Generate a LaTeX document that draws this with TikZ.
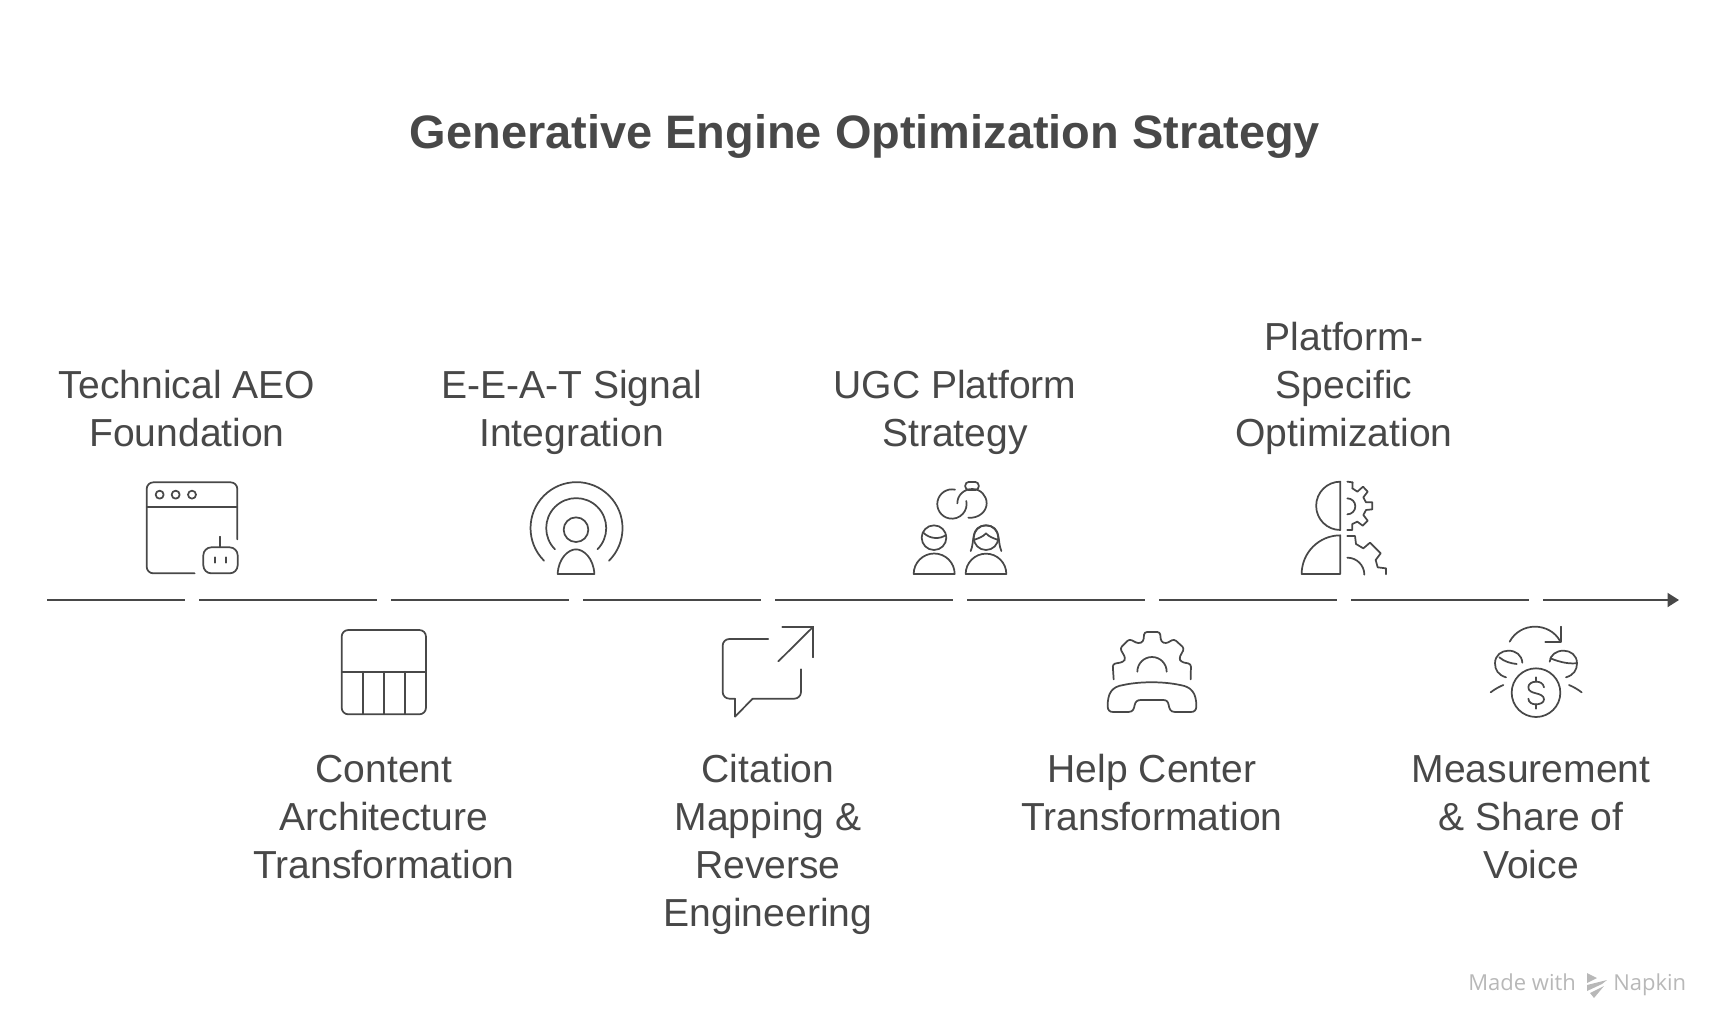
\documentclass[tikz,border=0pt]{standalone}
\usepackage{fontspec}
\setmainfont{Liberation Sans}
\newfontfamily\footfont{Open Sans}
\usepackage{xcolor}
\definecolor{inkgray}{HTML}{484848}
\definecolor{footgray}{HTML}{B8B8B8}
\usetikzlibrary{arrows.meta}
\tikzset{
  axisline/.style={draw=inkgray, line width=1.5pt},
  iconline/.style={draw=inkgray, line width=1.3pt, line cap=round, line join=round},
  steplabel/.style={text=inkgray, align=center, inner sep=0pt,
    font=\fontsize{29.3}{36}\selectfont},
  footlabel/.style={text=footgray, inner sep=0pt, anchor=base west,
    font=\footfont\fontsize{16.5}{20}\selectfont},
}
\begin{document}
\begin{tikzpicture}[x=0.75pt,y=-0.75pt]
  \useasboundingbox (0,0) rectangle (1728,1032);

  % Title
  \node[text=inkgray, inner sep=0pt] (title) at (865,136) {\fontsize{35.2}{44}\selectfont\textbf{Generative Engine Optimization Strategy}};

  % Timeline, broken below each step
  \coordinate (axisTail) at (47,600);
  \coordinate (axisTip) at (1679,600);
  \draw[axisline] (axisTail) -- (185,600);
  \foreach \gapx in {199,391,583,775,967,1159,1351}
    \draw[axisline] (\gapx,600) -- ++(178,0);
  \draw[axisline, -{Triangle[length=8.6pt,width=10.5pt]}] (1543,600) -- (axisTip);

  % Labels above the line
  \node[steplabel, anchor=south] (foundation) at (187,460.9) {Technical AEO\\Foundation\strut};
  \node[steplabel, anchor=south] (signal) at (571.5,460.9) {E-E-A-T Signal\\Integration\strut};
  \node[steplabel, anchor=south] (ugc) at (955,460.9) {UGC Platform\\Strategy\strut};
  \node[steplabel, anchor=south] (platform) at (1344,460.9) {Platform-\\Specific\\Optimization\strut};

  % Labels below the line
  \node[steplabel, anchor=north] (content) at (384,748.5) {\strut Content\\Architecture\\Transformation};
  \node[steplabel, anchor=north] (citation) at (768,748.5) {\strut Citation\\Mapping \&\\Reverse\\Engineering};
  \node[steplabel, anchor=north] (help) at (1152,748.5) {\strut Help Center\\Transformation};
  \node[steplabel, anchor=north] (measure) at (1531,748.5) {\strut Measurement\\\& Share of\\Voice};

  % Browser with robot
  \begin{scope}[shift={(120,460)},scale=1/3]
    \draw[iconline, rounded corners=5pt] (224,340) -- (80,340) -- (80,67) -- (352,67) -- (352,238);
    \draw[iconline] (80,140) -- (352,140);
    \foreach \dotx in {119,167,216}
      \draw[iconline] (\dotx,104) circle[radius=12];
    \draw[iconline, rounded corners=6pt] (250,262) rectangle (353,340);
    \draw[iconline] (301,230) -- (301,262);
    \draw[iconline] (285,292) -- (285,308);
    \draw[iconline] (318,292) -- (318,308);
  \end{scope}

  % Table
  \begin{scope}[shift={(120,460)},scale=1/3]
    \draw[iconline, rounded corners=5pt] (665,510) rectangle (918,763);
    \draw[iconline] (665,635) -- (918,635);
    \foreach \colx in {729,792,855}
      \draw[iconline] (\colx,635) -- (\colx,763);
  \end{scope}

  % Radiating person
  \begin{scope}[shift={(500,460)},scale=1/3]
    \draw[iconline] (132,302) arc[start angle=135, end angle=405, radius=138];
    \draw[iconline] (165,268) arc[start angle=135, end angle=405, radius=90];
    \draw[iconline] (228,209) circle[radius=37];
    \draw[iconline] (173,342) .. controls (175,295) and (205,268) .. (228,268)
      .. controls (251,268) and (281,295) .. (283,342) -- cycle;
  \end{scope}

  % Speech bubble with arrow
  \begin{scope}[shift={(500,460)},scale=1/3]
    \draw[iconline, rounded corners=5pt] (805,537) -- (668,537) -- (668,716) -- (705,716);
    \draw[iconline] (705,716) -- (705,770) -- (758,716);
    \draw[iconline, rounded corners=5pt] (758,716) -- (903,716) -- (903,628);
    \draw[iconline] (847,500) -- (940,500) -- (940,592);
    \draw[iconline] (940,500) -- (835,604);
  \end{scope}

  % Two people with link
  \begin{scope}[shift={(880,470)},scale=1/3]
    \draw[iconline] (225,59) arc[start angle=-78, end angle=-372, radius=44];
    \draw[iconline] (232,100) .. controls (232,75) and (252,57) .. (277,57)
      .. controls (302,57) and (320,77) .. (320,100)
      .. controls (320,125) and (295,146) .. (265,143);
    \draw[iconline, rounded corners=2.5pt] (256,36) rectangle (296,60);
    \draw[iconline] (162,203) circle[radius=37];
    \draw[iconline] (130,188) .. controls (150,208) and (180,208) .. (198,195);
    \draw[iconline] (101,312) arc[start angle=180, end angle=360, radius=61.5] -- cycle;
    \draw[iconline] (318,203) circle[radius=37];
    \draw[iconline] (272,243) .. controls (285,215) and (270,168) .. (318,166)
      .. controls (366,168) and (351,215) .. (364,243);
    \draw[iconline] (281,210) .. controls (295,205) and (310,200) .. (318,190)
      .. controls (326,200) and (341,205) .. (355,210);
    \draw[iconline] (257,312) arc[start angle=180, end angle=360, radius=61] -- cycle;
  \end{scope}

  % Gear over telephone
  \begin{scope}[shift={(880,470)},scale=1/3]
    \draw[iconline, rounded corners=2pt] (701,628) -- (698,582) -- (730,576) -- (737,565) -- (720,535) -- (748,507) -- (775,521) -- (790,515) -- (793,486) -- (840,486) -- (843,515) -- (858,521) -- (882,507) -- (913,535) -- (897,565) -- (904,576) -- (933,582) -- (932,628);
    \draw[iconline] (772,605) arc[start angle=180, end angle=360, radius=44];
    \draw[iconline] (700,726) .. controls (688,726) and (683,720) .. (683,708)
      .. controls (683,670) and (695,650) .. (730,645)
      .. controls (780,634) and (850,634) .. (900,645)
      .. controls (935,650) and (949,670) .. (949,708)
      .. controls (949,720) and (944,726) .. (932,726)
      -- (885,726) .. controls (870,726) and (868,715) .. (866,705)
      .. controls (864,695) and (860,690) .. (850,690)
      -- (782,690) .. controls (772,690) and (766,695) .. (764,705)
      .. controls (762,715) and (760,726) .. (745,726) -- cycle;
  \end{scope}

  % Half head with gears
  \begin{scope}[shift={(1270,470)},scale=1/3]
    \draw[iconline] (211,35) arc[start angle=-90, end angle=-270, radius=72.5] -- cycle;
    \draw[iconline] (95,312) arc[start angle=180, end angle=270, radius=116] -- (211,312) -- cycle;
    \draw[iconline] (232,35) -- (248,37) -- (247,55) -- (262,65) -- (279,50) -- (293,65) -- (280,82) -- (288,97) -- (307,97) -- (307,118) -- (288,120) -- (280,135) -- (293,152) -- (278,167) -- (262,155) -- (247,162) -- (247,180) -- (232,180);
    \draw[iconline] (232,85) arc[start angle=-90, end angle=90, radius=24];
    \draw[iconline] (232,198) -- (255,198) -- (258,222) -- (280,235) -- (300,218) -- (332,250) -- (317,270) -- (323,292) -- (348,295) -- (348,313);
    \draw[iconline] (232,263) arc[start angle=-90, end angle=0, radius=51];
  \end{scope}

  % Alarm clock with dollar
  \begin{scope}[shift={(1270,470)},scale=1/3]
    \draw[iconline] (798,668) circle[radius=73];
    \draw[iconline] (822,652) .. controls (820,640) and (810,635) .. (798,635)
      .. controls (785,635) and (775,642) .. (775,652)
      .. controls (775,664) and (787,667) .. (798,670)
      .. controls (810,673) and (822,677) .. (822,688)
      .. controls (822,698) and (810,703) .. (798,703)
      .. controls (786,703) and (776,698) .. (775,686);
    \draw[iconline] (798,622) -- (798,635);
    \draw[iconline] (798,703) -- (798,716);
    \draw[iconline] (719,515) .. controls (735,485) and (765,470) .. (795,470)
      .. controls (825,470) and (855,485) .. (870,513);
    \draw[iconline] (872,470) -- (872,515) -- (826,515);
    \draw[iconline] (708,622) .. controls (685,615) and (675,600) .. (675,580)
      .. controls (675,555) and (695,542) .. (715,542)
      .. controls (738,542) and (755,555) .. (757,578);
    \draw[iconline] (688,562) .. controls (703,575) and (722,580) .. (740,582);
    \draw[iconline] (888,622) .. controls (911,615) and (921,600) .. (921,580)
      .. controls (921,555) and (901,542) .. (881,542)
      .. controls (858,542) and (841,555) .. (839,575);
    \draw[iconline] (841,565) .. controls (860,572) and (885,582) .. (918,580);
    \draw[iconline] (662,667) .. controls (675,657) and (688,650) .. (700,645);
    \draw[iconline] (935,667) .. controls (922,657) and (909,650) .. (897,645);
  \end{scope}

  % Footer mark
  \node[footlabel] (madewith) at (1468,990.5) {Made with};
  \node[footlabel] (napkin) at (1613,990.5) {Napkin};
  \fill[footgray] (1587,973) -- (1597,978) -- (1587,983) -- cycle;
  \fill[footgray] (1587,985) -- (1607,980) -- (1602,984) -- (1587,991) -- cycle;
  \fill[footgray] (1590,993) -- (1604,986) -- (1594,998) -- cycle;
\end{tikzpicture}
\end{document}
